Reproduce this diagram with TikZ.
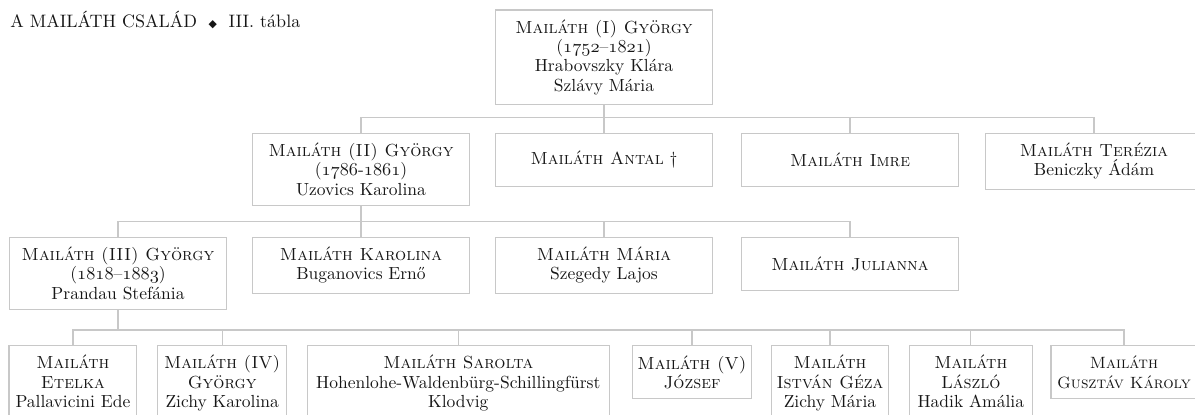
\documentclass[tikz,border=0pt]{standalone}
\usepackage{fontspec}
\usepackage{tikz}
\usetikzlibrary{positioning}
\newfontfamily\symfont{DejaVu Sans}
\newcommand\osf[1]{{\usefont{OML}{cmm}{m}{it}#1}}
\definecolor{boxgray}{RGB}{200,200,200}
\definecolor{inkgray}{RGB}{22,22,22}
\tikzset{
  person/.style={draw=boxgray,line width=0.8pt,text=inkgray,align=center,anchor=north,
    minimum width=#1,minimum height=31.8pt,inner xsep=1pt,inner ysep=5.8pt,
    font=\fontsize{10.5}{11.6}\selectfont},
  person/.default=130.2pt,
  link/.style={draw=boxgray,line width=0.8pt}
}

\begin{document}
\begin{tikzpicture}[x=0.6pt,y=-0.6pt]
  \useasboundingbox (0,0) rectangle (1195,415);
  \node[anchor=base west,inner sep=0pt,text=inkgray,font=\fontsize{10.8}{12}\selectfont] (title) at (10,27.7) {A MAILÁTH CSALÁD\hspace{7pt}{\symfont\fontsize{6.5}{7}\selectfont ◆}\hspace{7pt}III. tábla};
  \node[person] (gy1) at (604,9.3) {\textsc{Mailáth (I) György}\\(\osf{1752}–\osf{1821})\\Hrabovszky Klára\\Szlávy Mária};
  \node[person] (gy2) at (361,132.7) {\textsc{Mailáth (II) György}\\(\osf{1786}-\osf{1861})\\Uzovics Karolina};
  \node[person] (antal) at (604,132.7) {\textsc{Mailáth Antal} †};
  \node[person] (imre) at (850,132.7) {\textsc{Mailáth Imre}};
  \node[person] (terezia) at (1094,132.7) {\textsc{Mailáth Terézia}\\Beniczky Ádám};
  \node[person] (gy3) at (118,236.7) {\textsc{Mailáth (III) György}\\(\osf{1818}–\osf{1883})\\Prandau Stefánia};
  \node[person] (karolina) at (361,236.7) {\textsc{Mailáth Karolina}\\Buganovics Ernő};
  \node[person] (maria) at (604,236.7) {\textsc{Mailáth Mária}\\Szegedy Lajos};
  \node[person] (julianna) at (850,236.7) {\textsc{Mailáth Julianna}};
  \node[person=76.6pt] (etelka) at (72.9,345) {\textsc{Mailáth}\\\textsc{Etelka}\\Pallavicini Ede};
  \node[person=77.4pt] (gy4) at (222.2,345) {\textsc{Mailáth (IV)}\\\textsc{György}\\Zichy Karolina};
  \node[person=181.2pt] (sarolta) at (458.3,345) {\textsc{Mailáth Sarolta}\\Hohenlohe-Waldenbürg-Schillingfürst\\Klodvig};
  \node[person=71.6pt] (jozsef) at (692,345) {\textsc{Mailáth (V)}\\\textsc{József}};
  \node[person=70pt] (istvan) at (830,345) {\textsc{Mailáth}\\\textsc{István Géza}\\Zichy Mária};
  \node[person=73.8pt] (laszlo) at (970.8,345) {\textsc{Mailáth}\\\textsc{László}\\Hadik Amália};
  \node[person=87.6pt,font=\fontsize{9.8}{11.6}\selectfont] (gusztav) at (1124,345) {\textsc{Mailáth}\\\textsc{Gusztáv Károly}};
  \coordinate (bar1) at (0,117.3);
  \coordinate (bar2) at (0,221.7);
  \coordinate (bar3) at (0,330);
  \draw[link] (gy1.south) -- (gy1.south |- bar1);
  \draw[link] (gy2.north) |- (terezia.north |- bar1) -- (terezia.north);
  \draw[link] (antal.north) -- (antal.north |- bar1);
  \draw[link] (imre.north) -- (imre.north |- bar1);
  \draw[link] (gy2.south) -- (gy2.south |- bar2);
  \draw[link] (gy3.north) |- (julianna.north |- bar2) -- (julianna.north);
  \draw[link] (karolina.north) -- (karolina.north |- bar2);
  \draw[link] (maria.north) -- (maria.north |- bar2);
  \draw[link] (gy3.south) -- (gy3.south |- bar3);
  \draw[link] (etelka.north) |- (gusztav.north |- bar3) -- (gusztav.north);
  \draw[link] (gy4.north) -- (gy4.north |- bar3);
  \draw[link] (sarolta.north) -- (sarolta.north |- bar3);
  \draw[link] (jozsef.north) -- (jozsef.north |- bar3);
  \draw[link] (istvan.north) -- (istvan.north |- bar3);
  \draw[link] (laszlo.north) -- (laszlo.north |- bar3);
\end{tikzpicture}
\end{document}
